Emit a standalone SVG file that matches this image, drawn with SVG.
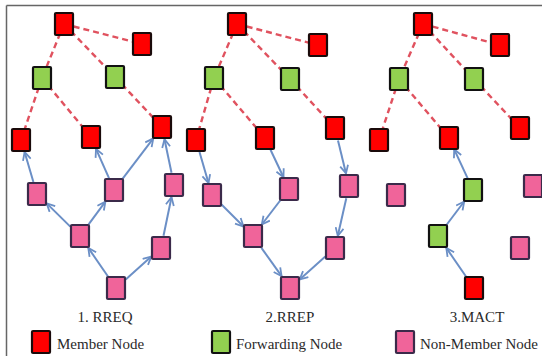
<svg xmlns="http://www.w3.org/2000/svg" width="542" height="356" viewBox="0 0 542 356">
<defs>
<style>
.m{fill:#ff0000;stroke:#1a0a0a;stroke-width:2.2}
.f{fill:#92d050;stroke:#111;stroke-width:2.2}
.p{fill:#f0649a;stroke:#3b2a4a;stroke-width:2.2}
.d{stroke:#e0525f;stroke-width:2.4;stroke-dasharray:6 4;fill:none}
.a{stroke:#6b8fc6;stroke-width:2;fill:none;marker-end:url(#ah)}
text{font-family:'Liberation Serif','DejaVu Serif',serif;font-size:15px;fill:#2a2a2a}
</style>
<marker id="ah" viewBox="0 0 10 10" refX="9" refY="5" markerWidth="10" markerHeight="10" markerUnits="userSpaceOnUse" orient="auto">
<path d="M1,1 L9,5 L1,9" fill="none" stroke="#6b8fc6" stroke-width="1.8"/>
</marker>
<rect id="n" x="-9" y="-11" width="18" height="22" rx="1"/>
</defs>
<rect width="542" height="356" fill="#ffffff"/>
<g id="frame" stroke="#666" stroke-width="1.5" fill="none">
<line x1="6.5" y1="5.5" x2="542" y2="5.5"/>
<line x1="6.5" y1="5.5" x2="6.5" y2="356"/>
</g>
<g id="connectors">
<line class="d" x1="64" y1="24" x2="142" y2="44"/>
<line class="d" x1="64" y1="24" x2="42" y2="78"/>
<line class="d" x1="64" y1="24" x2="115" y2="77"/>
<line class="d" x1="42" y1="78" x2="21" y2="140"/>
<line class="d" x1="42" y1="78" x2="91" y2="137"/>
<line class="d" x1="115" y1="77" x2="162" y2="127"/>
<line class="d" x1="237" y1="24" x2="318" y2="45"/>
<line class="d" x1="237" y1="24" x2="214" y2="78"/>
<line class="d" x1="237" y1="24" x2="290" y2="79"/>
<line class="d" x1="214" y1="78" x2="196" y2="140"/>
<line class="d" x1="214" y1="78" x2="265" y2="138"/>
<line class="d" x1="290" y1="79" x2="335" y2="128"/>
<line class="d" x1="423" y1="24" x2="500" y2="45"/>
<line class="d" x1="423" y1="24" x2="399" y2="79"/>
<line class="d" x1="423" y1="24" x2="474" y2="79"/>
<line class="d" x1="399" y1="79" x2="379" y2="140"/>
<line class="d" x1="399" y1="79" x2="449" y2="138"/>
<line class="d" x1="474" y1="79" x2="520" y2="128"/>
<line class="a" x1="108" y1="276.5" x2="88.3" y2="247.9"/>
<line class="a" x1="125.7" y1="279.4" x2="151.3" y2="256.6"/>
<line class="a" x1="70.3" y1="226.6" x2="46.7" y2="203.4"/>
<line class="a" x1="88.6" y1="224.3" x2="105.4" y2="201.7"/>
<line class="a" x1="33.4" y1="182" x2="24.6" y2="152"/>
<line class="a" x1="109" y1="178.1" x2="96" y2="148.9"/>
<line class="a" x1="122.7" y1="178.6" x2="153.3" y2="138.4"/>
<line class="a" x1="163.5" y1="235.7" x2="171.5" y2="197.3"/>
<line class="a" x1="171.5" y1="172.7" x2="164.5" y2="139.3"/>
<line class="a" x1="199.5" y1="152" x2="208.5" y2="183"/>
<line class="a" x1="270.5" y1="149.8" x2="283.5" y2="177.2"/>
<line class="a" x1="338" y1="140.6" x2="346" y2="173.4"/>
<line class="a" x1="221.5" y1="204.5" x2="243.5" y2="226.5"/>
<line class="a" x1="280.2" y1="200.5" x2="261.8" y2="224.5"/>
<line class="a" x1="346.3" y1="198.2" x2="337.8" y2="235.8"/>
<line class="a" x1="261.4" y1="247.8" x2="281.6" y2="276.2"/>
<line class="a" x1="325.3" y1="256.6" x2="299.7" y2="279.4"/>
<line class="a" x1="466" y1="276.5" x2="446.3" y2="247.9"/>
<line class="a" x1="446.8" y1="224.5" x2="464.2" y2="201.5"/>
<line class="a" x1="467.8" y1="178.7" x2="454.2" y2="149.4"/>
</g>
<g id="p1-top"><use href="#n" class="m" x="64" y="24"/></g>
<g id="p1-topright"><use href="#n" class="m" x="142" y="44"/></g>
<g id="p1-fwdL"><use href="#n" class="f" x="42" y="78"/></g>
<g id="p1-fwdR"><use href="#n" class="f" x="115" y="77"/></g>
<g id="p1-memL"><use href="#n" class="m" x="21" y="140"/></g>
<g id="p1-memM"><use href="#n" class="m" x="91" y="137"/></g>
<g id="p1-memR"><use href="#n" class="m" x="162" y="127"/></g>
<g id="p1-nm1"><use href="#n" class="p" x="37" y="194"/></g>
<g id="p1-nm2"><use href="#n" class="p" x="114" y="190"/></g>
<g id="p1-nm3"><use href="#n" class="p" x="174" y="185"/></g>
<g id="p1-nm4"><use href="#n" class="p" x="80" y="236"/></g>
<g id="p1-nm5"><use href="#n" class="p" x="161" y="248"/></g>
<g id="p1-src"><use href="#n" class="p" x="116" y="288"/></g>
<g id="p2-top"><use href="#n" class="m" x="237" y="24"/></g>
<g id="p2-topright"><use href="#n" class="m" x="318" y="45"/></g>
<g id="p2-fwdL"><use href="#n" class="f" x="214" y="78"/></g>
<g id="p2-fwdR"><use href="#n" class="f" x="290" y="79"/></g>
<g id="p2-memL"><use href="#n" class="m" x="196" y="140"/></g>
<g id="p2-memM"><use href="#n" class="m" x="265" y="138"/></g>
<g id="p2-memR"><use href="#n" class="m" x="335" y="128"/></g>
<g id="p2-nm1"><use href="#n" class="p" x="212" y="195"/></g>
<g id="p2-nm2"><use href="#n" class="p" x="289" y="189"/></g>
<g id="p2-nm3"><use href="#n" class="p" x="349" y="186"/></g>
<g id="p2-nm4"><use href="#n" class="p" x="253" y="236"/></g>
<g id="p2-nm5"><use href="#n" class="p" x="335" y="248"/></g>
<g id="p2-src"><use href="#n" class="p" x="290" y="288"/></g>
<g id="p3-top"><use href="#n" class="m" x="423" y="24"/></g>
<g id="p3-topright"><use href="#n" class="m" x="500" y="45"/></g>
<g id="p3-fwdL"><use href="#n" class="f" x="399" y="79"/></g>
<g id="p3-fwdR"><use href="#n" class="f" x="474" y="79"/></g>
<g id="p3-memL"><use href="#n" class="m" x="379" y="140"/></g>
<g id="p3-memM"><use href="#n" class="m" x="449" y="138"/></g>
<g id="p3-memR"><use href="#n" class="m" x="520" y="128"/></g>
<g id="p3-nm1"><use href="#n" class="p" x="396" y="195"/></g>
<g id="p3-fw1"><use href="#n" class="f" x="473" y="190"/></g>
<g id="p3-nm3"><use href="#n" class="p" x="533" y="186"/></g>
<g id="p3-fw2"><use href="#n" class="f" x="438" y="236"/></g>
<g id="p3-nm5"><use href="#n" class="p" x="520" y="248"/></g>
<g id="p3-src"><use href="#n" class="m" x="474" y="288"/></g>
<g id="labels">
<text x="105" y="322" text-anchor="middle" font-family="'Liberation Serif', serif">1. RREQ</text>
<text x="290" y="322" text-anchor="middle" font-family="'Liberation Serif', serif">2.RREP</text>
<text x="477" y="322" text-anchor="middle" font-family="'Liberation Serif', serif">3.MACT</text>
</g>
<g id="legend-member"><use href="#n" class="m" x="41" y="342"/><text x="57" y="349" font-family="'Liberation Serif', serif">Member Node</text></g>
<g id="legend-forwarding"><use href="#n" class="f" x="221" y="342"/><text x="236" y="349" font-family="'Liberation Serif', serif">Forwarding Node</text></g>
<g id="legend-nonmember"><use href="#n" class="p" x="405" y="342"/><text x="420" y="349" font-family="'Liberation Serif', serif">Non-Member Node</text></g>
</svg>
